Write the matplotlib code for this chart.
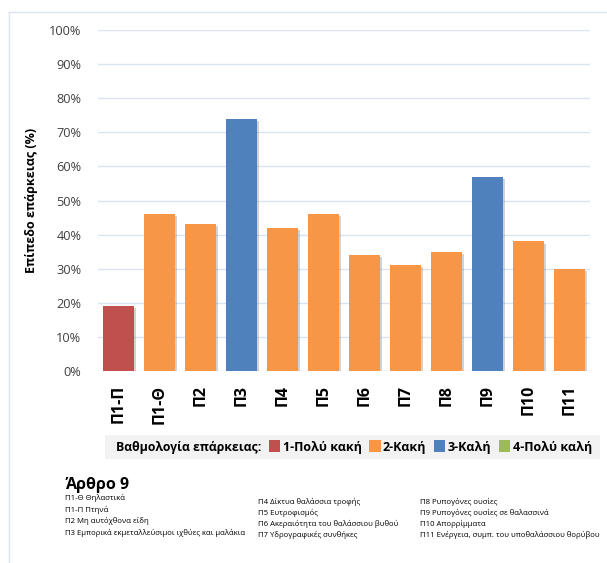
import matplotlib
matplotlib.use("Agg")
import matplotlib.pyplot as plt
import matplotlib.patheffects as pe
from matplotlib.lines import Line2D
from matplotlib.patches import Rectangle
from matplotlib.ticker import PercentFormatter

plt.rcParams['font.family'] = ['Open Sans', 'DejaVu Sans']

categories = ['Π1-Π', 'Π1-Θ', 'Π2', 'Π3', 'Π4', 'Π5', 'Π6', 'Π7', 'Π8', 'Π9', 'Π10', 'Π11']
values = [19, 46, 43, 74, 42, 46, 34, 31, 35, 57, 38, 30]
grades = [1, 2, 2, 3, 2, 2, 2, 2, 2, 3, 2, 2]

grade_labels = ['1-Πολύ κακή', '2-Κακή', '3-Καλή', '4-Πολύ καλή']
grade_colors = {1: '#C0504D', 2: '#F79646', 3: '#4F81BD', 4: '#9BBB59'}

notes_col1 = ['Π1-Θ Θηλαστικά', 'Π1-Π Πτηνά', 'Π2 Μη αυτόχθονα είδη',
              'Π3 Εμπορικά εκμεταλλεύσιμοι ιχθύες και μαλάκια']
notes_col2 = ['Π4 Δίκτυα θαλάσσια τροφής', 'Π5 Ευτροφισμός',
              'Π6 Ακεραιότητα του θαλάσσιου βυθού', 'Π7 Υδρογραφικές συνθήκες']
notes_col3 = ['Π8 Ρυπογόνες ουσίες', 'Π9 Ρυπογόνες ουσίες σε θαλασσινά',
              'Π10 Απορρίμματα', 'Π11 Ενέργεια, συμπ. του υποθαλάσσιου θορύβου']

W, H = 607, 563
fig = plt.figure(figsize=(W / 100, H / 100), dpi=100)


def fx(px):
    return px / W


def fy(py):
    return 1 - py / H


# outer frame (cut at right / bottom)
frame_col = '#DCE3EC'
fig.add_artist(Line2D([fx(9), 1], [fy(11.5), fy(11.5)], color=frame_col, lw=1))
fig.add_artist(Line2D([fx(9), fx(9)], [fy(11.5), 0], color=frame_col, lw=1))

ax = fig.add_axes([fx(98), fy(371), fx(590) - fx(98), fy(30) - fy(371)])
x = list(range(len(categories)))
bars = ax.bar(x, [v / 100 for v in values], width=0.75,
              color=[grade_colors[g] for g in grades], zorder=3)
for b in bars:
    b.set_path_effects([pe.SimplePatchShadow(offset=(1.5, -1.5), shadow_rgbFace='#7F7F7F', alpha=0.35),
                        pe.Normal()])

ax.set_xlim(-0.5, len(categories) - 0.5)
ax.set_ylim(0, 1)
ax.set_yticks([i / 10 for i in range(11)])
ax.yaxis.set_major_formatter(PercentFormatter(1.0, decimals=0))
ax.grid(axis='y', color='#D9E4F2', lw=1, zorder=0)
for s in ax.spines.values():
    s.set_visible(False)
ax.tick_params(axis='both', length=0)
ax.tick_params(axis='y', labelsize=9.2, labelcolor='#404040', pad=12)
ax.set_xticks(x)
ax.set_xticklabels(categories, rotation=90, fontsize=11.5, fontweight='bold', va='top')
ax.tick_params(axis='x', pad=10)
ax.set_ylabel('Επίπεδο επάρκειας (%)', fontsize=9, fontweight='bold', labelpad=8)

# legend strip
fig.add_artist(Rectangle((fx(105), fy(459)), fx(600) - fx(105), fy(435) - fy(459),
                         transform=fig.transFigure, facecolor='#F2F2F2', edgecolor='none'))
fig.text(fx(116), fy(447), 'Βαθμολογία επάρκειας:', fontsize=8.8, fontweight='bold', va='center')
handles = [Rectangle((0, 0), 1, 1, facecolor=grade_colors[i + 1]) for i in range(4)]
fig.legend(handles, grade_labels, ncol=4, frameon=False, loc='center left',
           bbox_to_anchor=(fx(269), fy(447)), prop={'size': 9, 'weight': 'bold'},
           handlelength=0.9, handleheight=1.1, handletextpad=0.2, columnspacing=0.6,
           borderaxespad=0, borderpad=0)

fig.text(fx(65), fy(485), 'Άρθρο 9', fontsize=11.5, fontweight='bold', va='center')
for i, t in enumerate(notes_col1):
    fig.text(fx(65), fy(498 + i * 11.7), t, fontsize=5.6, va='center')
for i, t in enumerate(notes_col2):
    fig.text(fx(258), fy(502 + i * 11), t, fontsize=5.6, va='center')
for i, t in enumerate(notes_col3):
    fig.text(fx(420), fy(502 + i * 11), t, fontsize=5.6, va='center')

fig.savefig('out.png', dpi=100)
